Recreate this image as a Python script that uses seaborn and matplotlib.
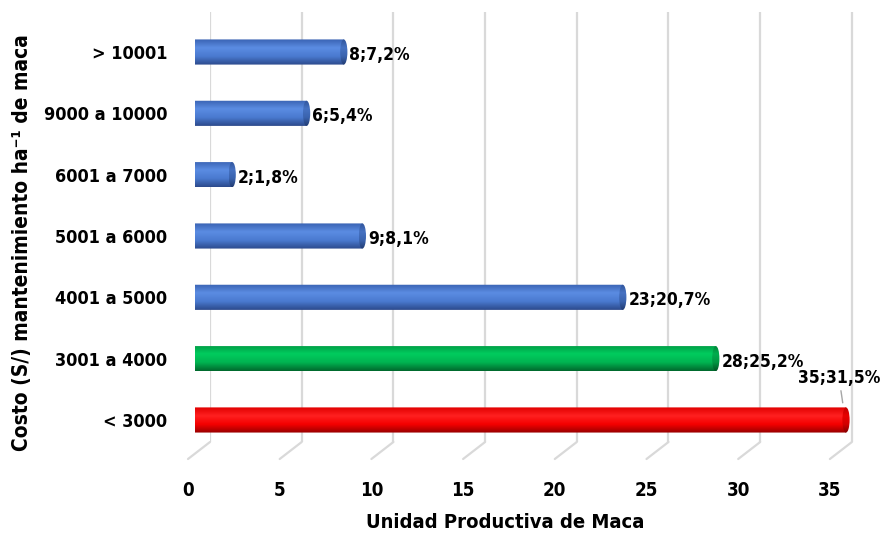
import numpy as np
import pandas as pd
import matplotlib
matplotlib.use("Agg")
import matplotlib.pyplot as plt
import seaborn as sns
from matplotlib.colors import LinearSegmentedColormap
from matplotlib.patches import PathPatch, Ellipse
from matplotlib.path import Path
from matplotlib.lines import Line2D

# Data
categories = ["> 10001", "9000 a 10000", "6001 a 7000", "5001 a 6000",
              "4001 a 5000", "3001 a 4000", "< 3000"]
counts = [8, 6, 2, 9, 23, 28, 35]
percents = [7.2, 5.4, 1.8, 8.1, 20.7, 25.2, 31.5]
bar_groups = ["otro", "otro", "otro", "otro", "otro", "segundo", "primero"]
x_ticks = [0, 5, 10, 15, 20, 25, 30, 35]

sns.set_theme(style="white")
plt.rcParams["font.family"] = ["DejaVu Sans"]
plt.rcParams["font.stretch"] = "condensed"
plt.rcParams["font.weight"] = "bold"
plt.rcParams["text.color"] = "black"
plt.rcParams["ytick.color"] = "black"
plt.rcParams["xtick.color"] = "black"

W, H = 887, 534
fig = plt.figure(figsize=(W / 100, H / 100), dpi=100)
fig.patch.set_facecolor("white")

# pixel geometry of the plotting box
top_px, bot_px = 12, 442
front_left, front_scale = 195, 18.6
back_left, back_scale = 210, 18.34

# Back wall with the vertical gridlines
ax_back = fig.add_axes([back_left / W, (H - bot_px) / H,
                        (W - back_left) / W, (bot_px - top_px) / H])
ax_back.set_xlim(0, (W - back_left) / back_scale)
ax_back.set_ylim(0, 1)
ax_back.set_xticks(x_ticks)
ax_back.set_yticks([])
ax_back.tick_params(axis="x", length=0, labelbottom=False)
ax_back.grid(axis="x", color="#d9d9d9", lw=1.6)
for s in ax_back.spines.values():
    s.set_visible(False)
ax_back.set_facecolor("none")

# Front plane carrying the bars
ax = fig.add_axes([front_left / W, (H - bot_px) / H,
                   (W - front_left) / W, (bot_px - top_px) / H], zorder=2)
ax.set_facecolor("none")

df = pd.DataFrame({"costo": categories, "unidades": counts, "grupo": bar_groups})
palette = {"otro": "#4472c4", "segundo": "#00b050", "primero": "#ff0000"}
bar_h = 0.41
sns.barplot(data=df, x="unidades", y="costo", hue="grupo", palette=palette,
            order=categories, orient="h", width=bar_h, dodge=False,
            legend=False, ax=ax)

pitch = 61.33
y_top = (top_px - 52) / pitch
y_bot = (bot_px - 52) / pitch
xmax = (W - front_left) / front_scale
ax.set_xlim(0, xmax)
ax.set_ylim(y_bot, y_top)

# cylinder shading, top edge -> highlight -> body -> shadowed bottom
shades = {
    "otro": ["#3a63b3", "#5b8ce2", "#4a7ad0", "#2c4a8c"],
    "segundo": ["#009b45", "#00cc5e", "#00b451", "#00692d"],
    "primero": ["#e00000", "#ff2020", "#f40000", "#970000"],
}
cap_shades = {
    "otro": ["#30549a", "#4672c2", "#3a63ae", "#223c72"],
    "segundo": ["#008238", "#00ad4e", "#009642", "#005524"],
    "primero": ["#c00000", "#e80000", "#d20000", "#800000"],
}

rx = 3.6 / front_scale   # end-cap half width in data units
grad = np.linspace(0, 1, 64).reshape(-1, 1)

bars = sorted(ax.patches, key=lambda p: p.get_y())
for i, (cat, v, grp) in enumerate(zip(categories, counts, bar_groups)):
    p = bars[i]
    yc = p.get_y() + p.get_height() / 2
    hh = p.get_height() / 2
    p.set_visible(False)
    cmap = LinearSegmentedColormap.from_list(grp, shades[grp])
    ccmap = LinearSegmentedColormap.from_list(grp + "_cap", cap_shades[grp])

    # body: rectangle plus a rounded left end
    verts = [(0, yc - hh), (v, yc - hh), (v, yc + hh), (0, yc + hh)]
    verts += [(rx * np.cos(a), yc + hh * np.sin(a))
              for a in np.linspace(np.pi / 2, 3 * np.pi / 2, 30)]
    body = PathPatch(Path(verts, closed=False), facecolor="none", edgecolor="none")
    ax.add_patch(body)
    im = ax.imshow(grad, cmap=cmap, aspect="auto", origin="upper",
                   extent=(-rx, v, yc + hh, yc - hh), zorder=3)
    im.set_clip_path(body)

    cap = Ellipse((v, yc), 2 * rx, 2 * hh, facecolor="none", edgecolor="none")
    ax.add_patch(cap)
    imc = ax.imshow(grad, cmap=ccmap, aspect="auto", origin="upper",
                    extent=(v - rx, v + rx, yc + hh, yc - hh), zorder=4)
    imc.set_clip_path(cap)

    label = f"{v};{str(percents[i]).replace('.', ',')}%"
    if i == len(categories) - 1:
        ax.annotate(label, xy=(v - 0.1, yc - hh * 0.6), xytext=(-5, 34),
                    textcoords="offset pixels", ha="center", va="center",
                    fontsize=12.5, fontweight="bold", color="black",
                    arrowprops=dict(arrowstyle="-", color="#a6a6a6", lw=1,
                                    shrinkA=0, shrinkB=7), zorder=5)
    else:
        ax.annotate(label, xy=(v + rx, yc), xytext=(2, -3),
                    textcoords="offset pixels", ha="left", va="center",
                    fontsize=12.5, fontweight="bold", color="black", zorder=5)

ax.set_xlim(0, xmax)
ax.set_ylim(y_bot, y_top)
ax.set_xticks([])
ax.set_xlabel("")
ax.set_ylabel("")
ax.tick_params(axis="y", length=0, pad=20, labelsize=13, labelcolor="black")
for lab in ax.get_yticklabels():
    lab.set_fontweight("bold")
    lab.set_fontstretch("condensed")
for s in ax.spines.values():
    s.set_visible(False)

# floor lines and tick labels below the back wall
fig.canvas.draw()
trans = ax_back.get_xaxis_transform()
for xt in x_ticks:
    x0, y0 = trans.transform((xt, 0))
    fig.add_artist(Line2D([x0, x0 - 22], [y0, y0 - 17], color="#d9d9d9",
                          lw=1.6, transform=None))
    fig.text((x0 - 22) / W, (H - 490) / H, str(xt), ha="center", va="center",
             fontsize=13.5, fontweight="bold", color="black")

fig.text(505 / W, (H - 522) / H, "Unidad Productiva de Maca", ha="center",
         va="center", fontsize=14.5, fontweight="bold", color="black")
fig.text(22 / W, (H - 243) / H, "Costo (S/) mantenimiento ha\u207b\u00b9 de maca",
         rotation=90, ha="center", va="center", fontsize=15,
         fontweight="bold", color="black")

fig.savefig("out.png", dpi=100, facecolor="white")
